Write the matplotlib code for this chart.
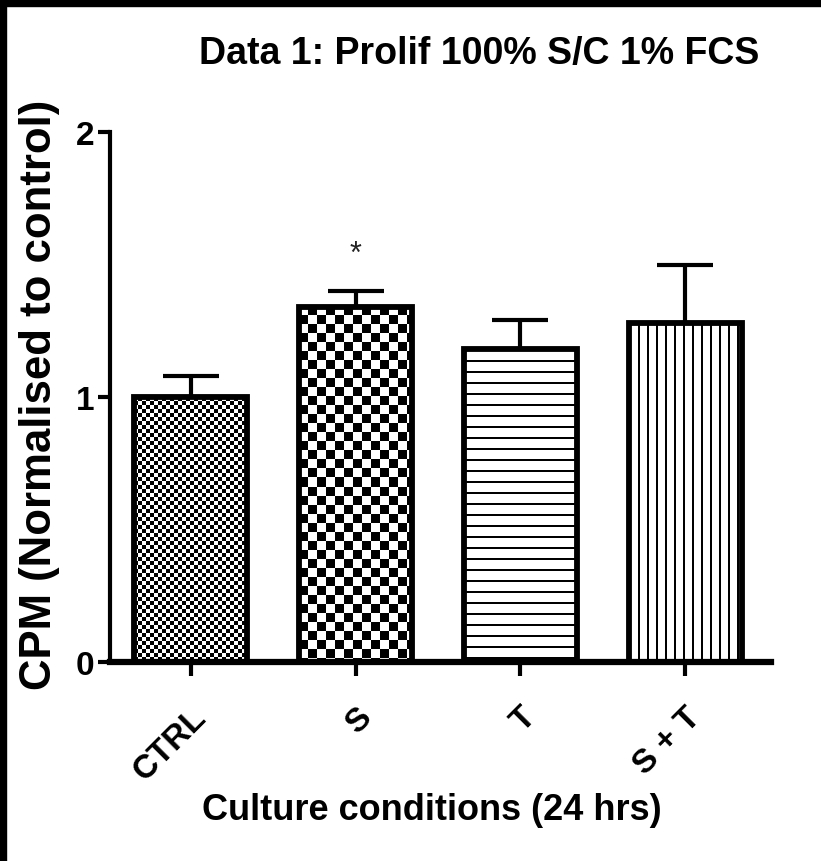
import numpy as np
import matplotlib
matplotlib.use('Agg')
import matplotlib.pyplot as plt
from matplotlib.patches import Rectangle

conditions = ['CTRL', 'S', 'T', 'S + T']
cpm = [1.0, 1.34, 1.18, 1.28]
sem = [0.08, 0.06, 0.11, 0.22]
stars = ['', '*', '', '']

font = ['Liberation Sans', 'DejaVu Sans']

W, H = 821, 862
fig = plt.figure(figsize=(W / 100, H / 100), dpi=100)
fig.patch.set_facecolor('white')
# black strips along top and left edge of the original screenshot
fig.patches.append(Rectangle((0, 1 - 7 / H), 1, 7 / H, transform=fig.transFigure, color='k', zorder=10))
fig.patches.append(Rectangle((0, 0), 6 / W, 1, transform=fig.transFigure, color='k', zorder=10))

ax = fig.add_axes([110 / W, 199 / H, 661 / W, 530 / H])
x = np.arange(len(conditions))
ax.set_xlim(-0.49, 3.52)
ax.set_ylim(0, 2)

bars = ax.bar(x, cpm, width=0.685, facecolor='none', edgecolor='k', linewidth=4.2, zorder=3)


def pattern(kind, h, w):
    i, j = np.mgrid[0:h, 0:w]
    if kind == 'fine':
        return ((i // 4 + j // 4) % 2).astype(float)
    if kind == 'coarse':
        return ((i // 9 + j // 9) % 2).astype(float)
    if kind == 'hlines':
        return ((i % 11) < 2).astype(float)
    return ((j % 9) < 2).astype(float)


kinds = ['fine', 'coarse', 'hlines', 'vlines']
for b, kind in zip(bars, kinds):
    x0, y0 = b.get_x(), b.get_y()
    x1, y1 = x0 + b.get_width(), y0 + b.get_height()
    (px0, py0), (px1, py1) = ax.transData.transform([(x0, y0), (x1, y1)])
    arr = pattern(kind, int(round(py1 - py0)), int(round(px1 - px0)))
    im = ax.imshow(arr, extent=(x0, x1, y0, y1), cmap='gray_r', vmin=0, vmax=1,
                   interpolation='nearest', aspect='auto', zorder=2)
    im.set_clip_path(b)

ax.set_xlim(-0.49, 3.52)
ax.set_ylim(0, 2)

ax.errorbar(x, cpm, yerr=[np.zeros(len(x)), sem], fmt='none', ecolor='k',
            elinewidth=3, capsize=20, capthick=3, zorder=1)

for xi, v, e, s in zip(x, cpm, sem, stars):
    if s:
        ax.text(xi, v + e + 0.14, s, ha='center', va='center', fontsize=22,
                family=font, color='#222222')

for side in ['top', 'right']:
    ax.spines[side].set_visible(False)
ax.spines['left'].set_linewidth(3)
ax.spines['bottom'].set_linewidth(4.5)

ax.set_yticks([0, 1, 2])
ax.set_yticklabels(['0', '1', '2'], fontsize=24, fontweight='bold', family=font)
ax.tick_params(axis='y', length=8.5, width=3, pad=3)

ax.set_xticks(x)
ax.set_xticklabels(conditions, rotation=45, ha='right', rotation_mode='anchor',
                   fontsize=24, fontweight='bold', family=font)
ax.tick_params(axis='x', length=10, width=3, pad=18)

ax.set_ylabel('CPM (Normalised to control)', fontsize=31.5, fontweight='bold', family=font)
ax.yaxis.set_label_coords(-0.076, 0.506)
ax.set_xlabel('Culture conditions (24 hrs)', fontsize=26, fontweight='bold', family=font)
ax.xaxis.set_label_coords(0.487, -0.245)

fig.text(479 / W, 1 - 54 / H, 'Data 1: Prolif 100% S/C 1% FCS', ha='center', va='center',
         fontsize=27, fontweight='bold', family=font)

fig.savefig('out.png', dpi=100)
